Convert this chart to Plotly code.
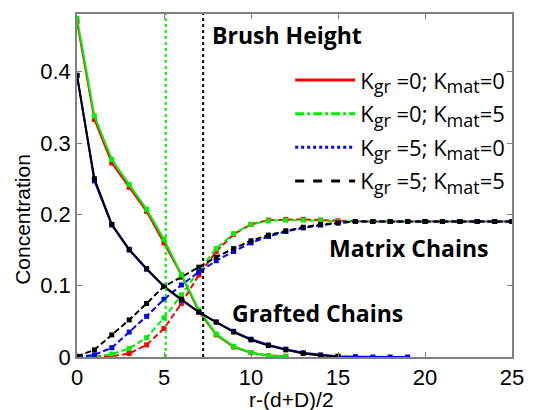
import plotly.graph_objects as go

# ---------------- data ----------------
x_graft_00 = list(range(0, 13))
graft_00 = [0.470, 0.333, 0.272, 0.238, 0.204, 0.160, 0.115, 0.064, 0.031, 0.014, 0.006, 0.002, 0.001]
x_graft_05 = list(range(0, 13))
graft_05 = [0.475, 0.338, 0.277, 0.242, 0.207, 0.165, 0.115, 0.066, 0.032, 0.015, 0.006, 0.002, 0.001]
x_graft_50 = list(range(0, 20))
graft_50 = [0.395, 0.247, 0.185, 0.150, 0.123, 0.099, 0.080, 0.063, 0.049, 0.036, 0.025, 0.017,
            0.011, 0.006, 0.003, 0.001, 0.0005, 0.0, 0.0, 0.0]
x_graft_55 = list(range(0, 16))
graft_55 = [0.395, 0.250, 0.186, 0.151, 0.124, 0.099, 0.081, 0.063, 0.049, 0.035, 0.024, 0.016,
            0.010, 0.005, 0.002, 0.001]

x_mat = list(range(0, 26))
mat_00 = [0.0, 0.0, 0.001, 0.005, 0.017, 0.040, 0.075, 0.115, 0.148, 0.172, 0.186, 0.192, 0.193,
          0.193, 0.192, 0.191, 0.190, 0.190, 0.190, 0.190, 0.190, 0.190, 0.190, 0.190, 0.190, 0.190]
mat_05 = [0.0, 0.001, 0.004, 0.012, 0.027, 0.055, 0.087, 0.121, 0.152, 0.173, 0.186, 0.191, 0.192,
          0.192, 0.191, 0.190, 0.190, 0.190, 0.190, 0.190, 0.190, 0.190, 0.190, 0.190, 0.190, 0.190]
mat_50 = [0.0, 0.003, 0.013, 0.035, 0.057, 0.081, 0.101, 0.119, 0.135, 0.148, 0.160, 0.169, 0.176,
          0.181, 0.185, 0.188, 0.190, 0.190, 0.190, 0.190, 0.190, 0.190, 0.190, 0.190, 0.190, 0.190]
mat_55 = [0.001, 0.010, 0.031, 0.052, 0.075, 0.099, 0.112, 0.126, 0.140, 0.152, 0.163, 0.171, 0.177,
          0.182, 0.186, 0.188, 0.190, 0.190, 0.190, 0.190, 0.190, 0.190, 0.190, 0.190, 0.190, 0.190]

legend_kgr = ["0", "0", "5", "5"]
legend_kmat = ["0", "5", "0", "5"]
colors = ["#ff0000", "#00ee00", "#0000ff", "#000000"]
legend_dash = ["solid", "dashdot", "dot", "dash"]

brush_green_x = 5.1
brush_black_x = 7.25

x_ticks = [0, 5, 10, 15, 20, 25]
y_ticks = [0, 0.1, 0.2, 0.3, 0.4]
y_tick_text = ["0", "0.1", "0.2", "0.3", "0.4"]

# ---------------- figure ----------------
fig = go.Figure()

graft_sets = [(x_graft_00, graft_00), (x_graft_05, graft_05), (x_graft_50, graft_50), (x_graft_55, graft_55)]
mat_sets = [mat_00, mat_05, mat_50, mat_55]

for i in range(4):
    fig.add_trace(go.Scatter(x=x_mat, y=mat_sets[i], mode="lines+markers",
                             line=dict(color=colors[i], width=2, dash="6px,3px"),
                             marker=dict(symbol="square", size=5, color=colors[i]),
                             showlegend=False, hoverinfo="skip"))
for i in range(4):
    gx, gy = graft_sets[i]
    fig.add_trace(go.Scatter(x=gx, y=gy, mode="lines+markers",
                             line=dict(color=colors[i], width=2),
                             marker=dict(symbol="square", size=5, color=colors[i]),
                             showlegend=False, hoverinfo="skip"))

sub_style = "font-size:18px"
for i in range(4):
    name = ("K<sub><span style='%s'>gr</span></sub> =%s; K<sub><span style='%s'>mat</span></sub>=%s"
            % (sub_style, legend_kgr[i], sub_style, legend_kmat[i]))
    fig.add_trace(go.Scatter(x=[None], y=[None], mode="lines", name=name,
                             legendgroup="g%d" % i,
                             line=dict(color=colors[i], width=3, dash=legend_dash[i])))

fig.add_vline(x=brush_green_x, line=dict(color="#00ee00", width=2, dash="dot"))
fig.add_vline(x=brush_black_x, line=dict(color="#000000", width=2, dash="dot"))

ann_font = dict(family="Open Sans", size=23, color="black")
fig.add_annotation(x=7.62, y=0.451, xref="x", yref="y", text="<b>Brush Height</b>",
                   showarrow=False, xanchor="left", yanchor="middle", font=ann_font)
fig.add_annotation(x=19.1, y=0.1525, xref="x", yref="y", text="<b>Matrix Chains</b>",
                   showarrow=False, yanchor="middle", font=ann_font)
fig.add_annotation(x=13.85, y=0.0615, xref="x", yref="y", text="<b>Grafted Chains</b>",
                   showarrow=False, yanchor="middle", font=ann_font)
fig.add_annotation(x=0.493, y=-0.123, xref="paper", yref="paper", xanchor="center",
                   yanchor="middle", text="r-(d+D)/2", showarrow=False, borderpad=0,
                   font=dict(family="Liberation Sans", size=21, color="black"))
fig.add_annotation(x=-0.124, y=0.4, xref="paper", yref="paper", textangle=-90,
                   xanchor="center", yanchor="middle",
                   text="Concentration", showarrow=False,
                   font=dict(family="Liberation Sans", size=21, color="black"))

axis_common = dict(showline=True, linecolor="#808080", linewidth=1.5, mirror="ticks",
                   ticks="inside", ticklen=5, tickcolor="#808080", showgrid=False,
                   zeroline=False, tickfont=dict(family="Liberation Sans", size=22, color="black"))
fig.update_xaxes(range=[0, 25], tickvals=x_ticks, **axis_common)
fig.update_yaxes(range=[0, 0.481], tickvals=y_ticks, ticktext=y_tick_text, **axis_common)

fig.update_layout(
    width=536, height=410,
    margin=dict(l=77, r=14, t=13, b=53),
    plot_bgcolor="white", paper_bgcolor="white",
    legend=dict(x=0.49, y=0.868, xanchor="left", yanchor="top", bgcolor="rgba(0,0,0,0)",
                font=dict(family="Open Sans", size=22, color="black"), itemwidth=60,
                tracegroupgap=2),
)

fig.write_html("out.html", config={"displayModeBar": False},
               post_script="document.body.style.margin='0px';")
